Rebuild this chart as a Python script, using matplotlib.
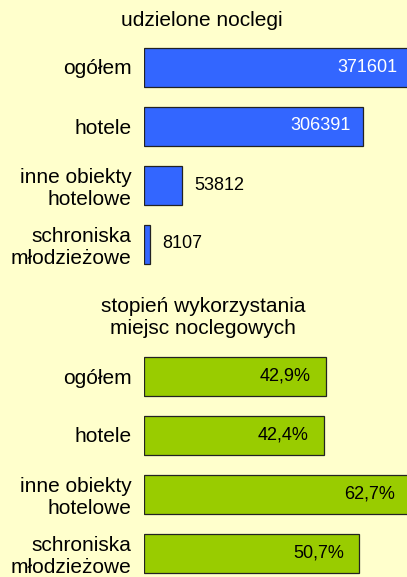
import matplotlib.pyplot as plt

plt.rcParams["font.family"] = ["Liberation Sans", "DejaVu Sans"]

categories = ["ogółem", "hotele", "inne obiekty\nhotelowe", "schroniska\nmłodzieżowe"]

# udzielone noclegi
nights = [371601, 306391, 53812, 8107]
nights_labels = ["371601", "306391", "53812", "8107"]

# stopień wykorzystania miejsc noclegowych (%)
occupancy = [42.9, 42.4, 62.7, 50.7]
occupancy_labels = ["42,9%", "42,4%", "62,7%", "50,7%"]

W, H = 407, 577
bg = "#FFFFCC"
blue = "#3366FF"
green = "#99CC00"

fig = plt.figure(figsize=(W / 100, H / 100), dpi=100, facecolor=bg)


def px_axes(x0, y0, x1, y1):
    # axes placed by pixel box (y measured from top)
    return fig.add_axes([x0 / W, 1 - y1 / H, (x1 - x0) / W, (y1 - y0) / H])


def panel(ax, values, labels, color, xmax, slot, inside, label_colors, y_extent, gap):
    ax.set_facecolor("none")
    y = list(range(len(values)))
    ax.barh(y, values, height=39 / slot, color=color, edgecolor="#222222", linewidth=0.9)
    ax.set_xlim(0, xmax)
    ax.set_ylim(y_extent, -0.5)
    ax.set_yticks(y)
    ax.set_yticklabels(categories, fontsize=15, linespacing=1.2)
    ax.tick_params(axis="y", length=0, pad=9)
    ax.set_xticks([])
    for s in ax.spines.values():
        s.set_visible(False)
    offset = gap * xmax / 263
    for yi, v, lab, ins, c in zip(y, values, labels, inside, label_colors):
        end = min(v, xmax * 1.0113)
        if ins:
            ax.text(end - offset, yi, lab, ha="right", va="center", fontsize=13, color=c)
        else:
            ax.text(v + 12 * xmax / 263, yi, lab, ha="left", va="center", fontsize=13, color=c)


slot = 59

# top panel: nights
ax1 = px_axes(144, 37.5, 407, 37.5 + 4 * slot)
panel(ax1, nights, nights_labels, blue, 263 / 0.000715, slot,
      [True, True, False, False], ["white", "white", "black", "black"], 3.5, 12)
fig.text(202 / W, 1 - 21 / H, "udzielone noclegi", ha="center", va="center", fontsize=15)

# bottom panel: occupancy
ax2 = px_axes(144, 346.5, 407, 577)
panel(ax2, occupancy, occupancy_labels, green, 263 / 4.24, slot,
      [True, True, True, True], ["black"] * 4, -0.5 + 230.5 / slot, 15)
fig.text(203 / W, 1 - 317 / H, "stopień wykorzystania\nmiejsc noclegowych",
         ha="center", va="center", fontsize=15, linespacing=1.2)

fig.savefig("out.png", dpi=100, facecolor=bg)
